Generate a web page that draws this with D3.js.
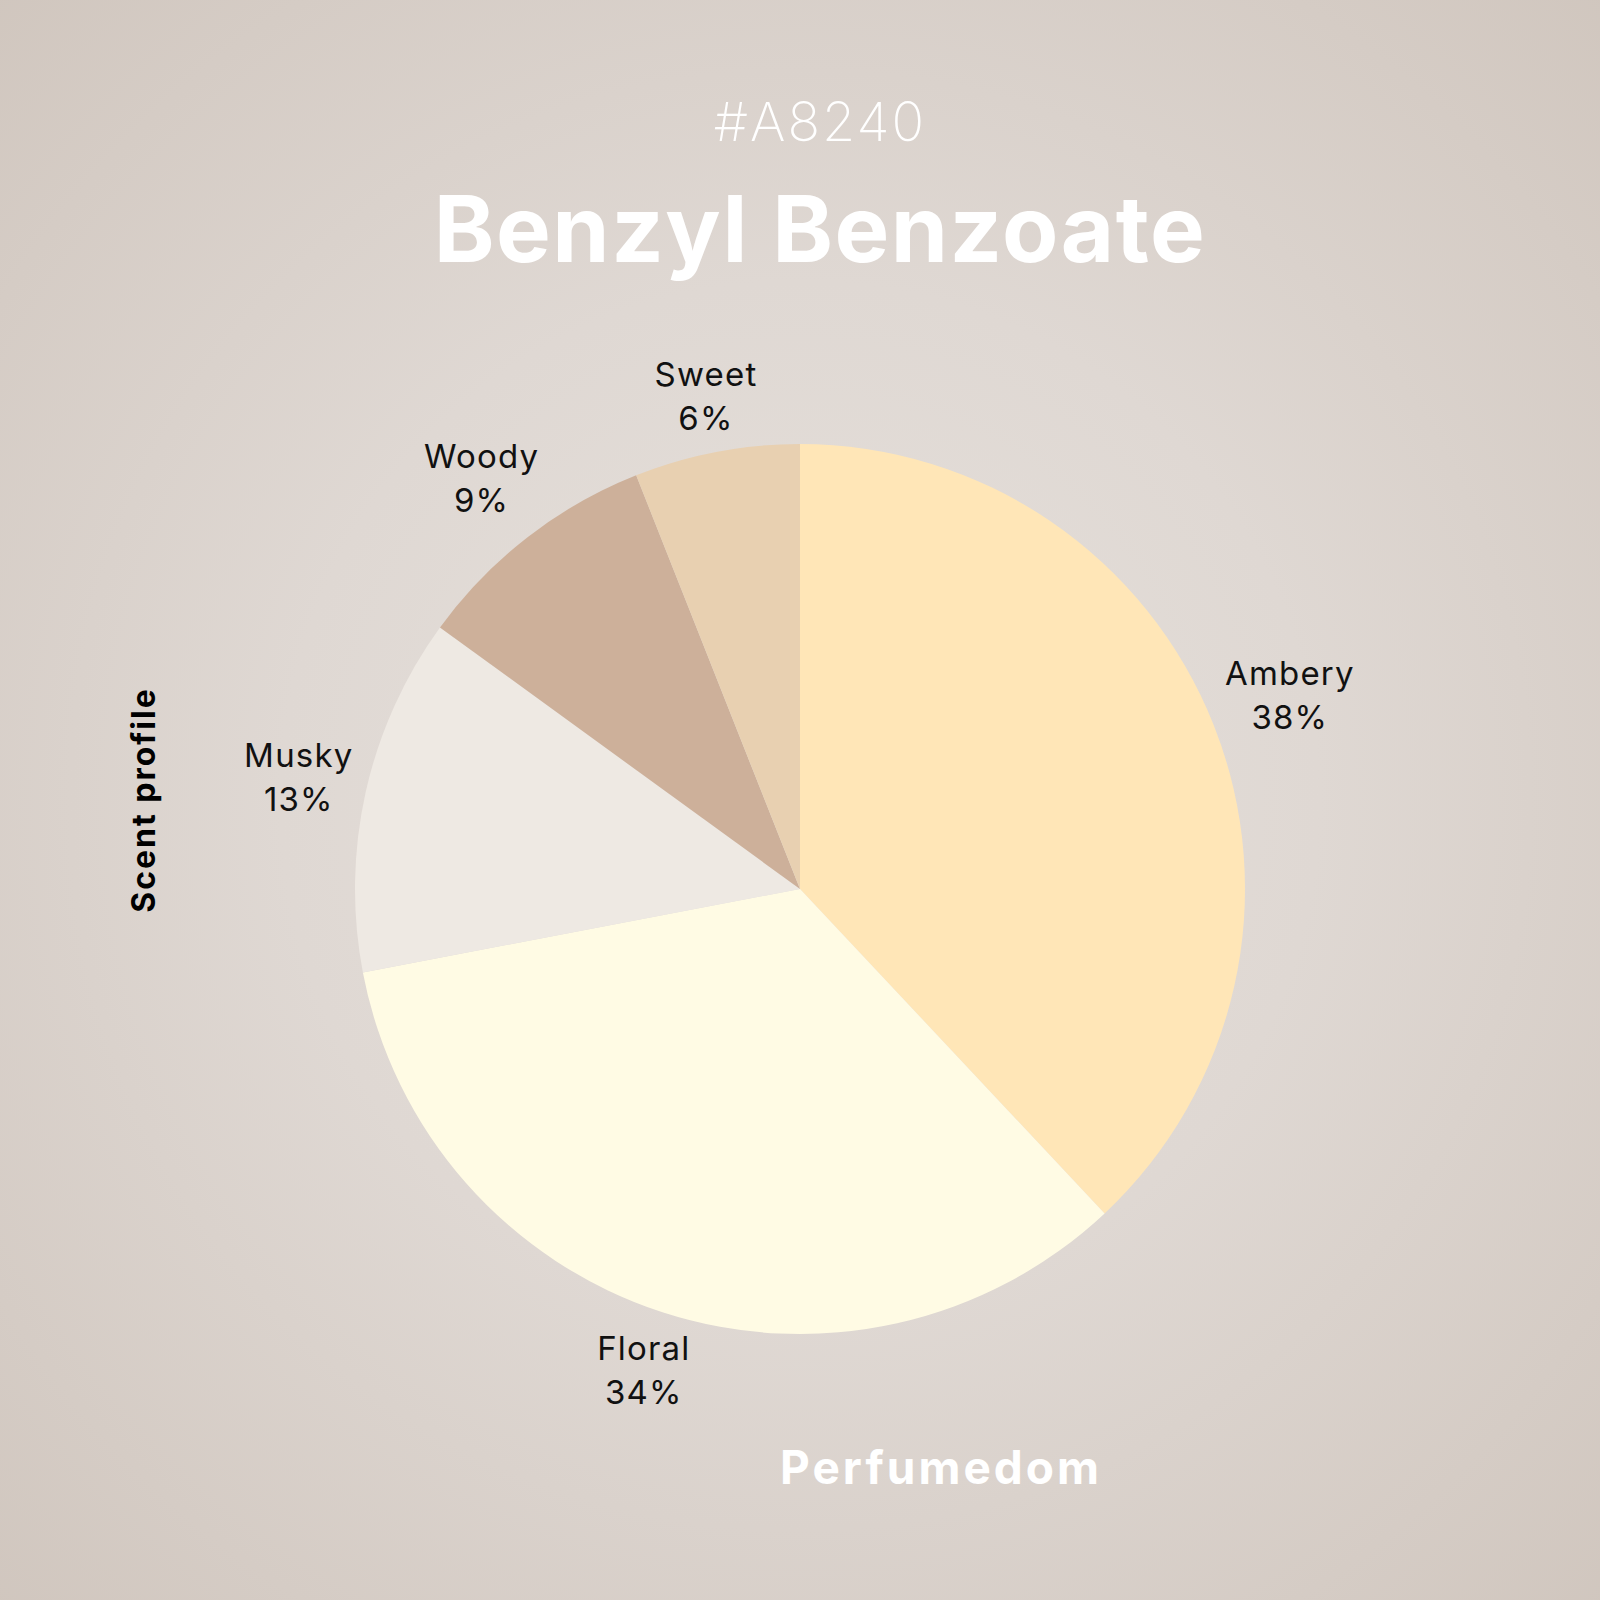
<!DOCTYPE html>
<html>
<head>
<meta charset="utf-8">
<script src="https://cdn.jsdelivr.net/npm/d3@7"></script>
<style>
  body { margin: 0; }
  svg { display: block; }
</style>
</head>
<body>
<div id="chart"></div>
<script>
const categories = ['Ambery', 'Floral', 'Musky', 'Woody', 'Sweet'];
const values = [38, 34, 13, 9, 6];
const colors = ['#FFE6B7', '#FFFBE4', '#EEE9E3', '#CDB09A', '#E8D0B1'];

const chart = () => {
  const width = 1600;
  const height = 1600;
  const cx = 800;
  const cy = 889;
  const radius = 445;
  const font = 'Inter, "Open Sans", sans-serif';

  const svg = d3.select('#chart')
    .append('svg')
    .attr('width', width)
    .attr('height', height);

  const grad = svg.append('defs')
    .append('radialGradient')
    .attr('id', 'bg')
    .attr('cx', '50%')
    .attr('cy', '50%')
    .attr('r', '72%');
  grad.append('stop').attr('offset', '0%').attr('stop-color', '#E6E1DC');
  grad.append('stop').attr('offset', '45%').attr('stop-color', '#DFD8D3');
  grad.append('stop').attr('offset', '100%').attr('stop-color', '#D0C6BE');

  svg.append('rect')
    .attr('width', width)
    .attr('height', height)
    .attr('fill', 'url(#bg)');

  const data = categories.map((name, i) => ({ name, value: values[i] }));
  const color = d3.scaleOrdinal()
    .domain(categories)
    .range(colors);

  const pie = d3.pie()
    .value(d => d.value)
    .sort(null);
  const arcs = pie(data);
  const arc = d3.arc()
    .innerRadius(0)
    .outerRadius(radius);

  const g = svg.append('g')
    .attr('transform', `translate(${cx},${cy})`);

  g.selectAll('path')
    .data(arcs)
    .join('path')
    .attr('d', arc)
    .attr('fill', d => color(d.data.name));

  // outside labels: push the text box out until it clears the pie
  const label = g.append('g')
    .selectAll('text')
    .data(arcs)
    .join('text')
    .attr('text-anchor', 'middle')
    .attr('font-family', font)
    .attr('font-size', 33)
    .attr('letter-spacing', 1.2)
    .attr('fill', '#111');
  label.append('tspan')
    .attr('x', 0)
    .attr('y', 0)
    .text(d => d.data.name);
  label.append('tspan')
    .attr('x', 0)
    .attr('y', 44)
    .text(d => `${d.data.value}%`);
  label.each(function(d) {
    const box = this.getBBox();
    const a = (d.startAngle + d.endAngle) / 2;
    const ux = Math.sin(a);
    const uy = -Math.cos(a);
    const r = radius + 6 + Math.abs(ux) * box.width / 2 + Math.abs(uy) * box.height / 2;
    const bx = box.x + box.width / 2;
    const by = box.y + box.height / 2;
    d3.select(this)
      .attr('transform', `translate(${ux * r - bx},${uy * r - by})`);
  });

  svg.append('text')
    .attr('x', 820)
    .attr('y', 141)
    .attr('text-anchor', 'middle')
    .attr('font-family', font)
    .attr('font-weight', 200)
    .attr('font-size', 54)
    .attr('letter-spacing', 2)
    .attr('fill', '#fff')
    .text('#A8240');

  svg.append('text')
    .attr('x', 820)
    .attr('y', 262)
    .attr('text-anchor', 'middle')
    .attr('font-family', font)
    .attr('font-weight', 700)
    .attr('font-size', 92)
    .attr('letter-spacing', 1.5)
    .attr('fill', '#fff')
    .text('Benzyl Benzoate');

  svg.append('text')
    .attr('transform', 'translate(155,800) rotate(-90)')
    .attr('text-anchor', 'middle')
    .attr('font-family', font)
    .attr('font-weight', 700)
    .attr('font-size', 32)
    .attr('letter-spacing', 2)
    .attr('fill', '#000')
    .text('Scent profile');

  svg.append('text')
    .attr('x', 941)
    .attr('y', 1484)
    .attr('text-anchor', 'middle')
    .attr('font-family', font)
    .attr('font-weight', 700)
    .attr('font-size', 46)
    .attr('letter-spacing', 3)
    .attr('fill', '#fff')
    .text('Perfumedom');
}

chart();
</script>
</body>
</html>
